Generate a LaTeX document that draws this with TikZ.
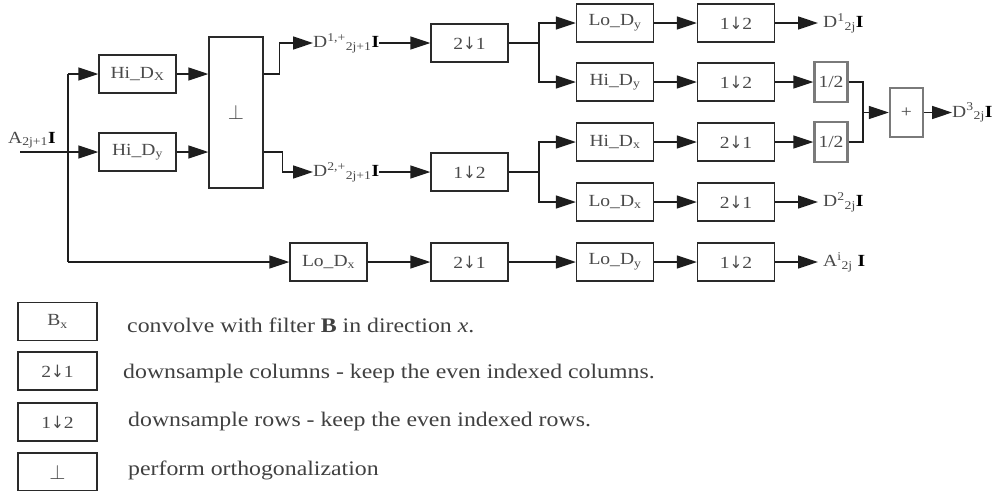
\documentclass[tikz,border=0pt]{standalone}
\usepackage{fontspec}
\setmainfont{Liberation Serif}[FakeStretch=1.15]
\newfontfamily\arrfont{DejaVu Sans}
\newcommand{\dnar}{{\arrfont\addfontfeature{FakeStretch=0.9}↓}}
\usetikzlibrary{arrows.meta}
\definecolor{linec}{HTML}{1E1E1E}
\definecolor{boxc}{HTML}{2A2A2A}
\definecolor{txtc}{HTML}{4A4A4A}
\definecolor{gboxc}{HTML}{7A7A7A}
\tikzset{
  blk/.style={draw=boxc, line width=1.4pt, minimum width=77pt, minimum height=38pt, inner sep=0pt,
    font=\fontsize{17}{19}\selectfont, text=txtc},
  gblk/.style={draw=gboxc, line width=2.4pt, minimum width=33pt, minimum height=40pt, inner sep=0pt,
    font=\fontsize{17}{19}\selectfont, text=txtc},
  lab/.style={inner sep=0pt, font=\fontsize{17}{19}\selectfont, text=txtc},
  leg/.style={inner sep=0pt, anchor=west, font=\fontsize{20.7}{22}\selectfont, text=linec!85},
  arr/.style={draw=linec, line width=1.4pt, -{Triangle[length=20pt,width=13pt]}},
  ln/.style={draw=linec, line width=1.4pt},
}
\begin{document}
\begin{tikzpicture}[x=1pt,y=-1pt]
\useasboundingbox[fill=white] (0,0) rectangle (996,490);

% input
\node[lab, anchor=base west] (ain) at (8,143) {A\textsubscript{2j+1}\textcolor{black}{\textbf{I}}};
\coordinate (in0) at (20,152);
\coordinate (j1) at (68,152);
\coordinate (jt) at (68,74);
\coordinate (jb) at (68,262);

% first stage
\node[blk] (hdx) at (137.5,74) {Hi\_D\textsubscript{X}};
\node[blk] (hdy) at (137.5,152) {Hi\_D\textsubscript{y}};
\node[blk, minimum width=54pt, minimum height=151pt, font=\fontsize{22}{24}\selectfont] (orth) at (236,112.5) {\raisebox{-8pt}{$\perp$}};

% intermediate labels
\node[lab, anchor=west] (d1p) at (313,43) {D\textsuperscript{1,+}\textsubscript{2j+1}\textcolor{black}{\textbf{I}}};
\node[lab, anchor=west] (d2p) at (313,172) {D\textsuperscript{2,+}\textsubscript{2j+1}\textcolor{black}{\textbf{I}}};

% downsampling stage 1
\node[blk] (b21a) at (469.5,43) {2\dnar1};
\node[blk] (b12c) at (469.5,172) {1\dnar2};
\coordinate (s1) at (539,43);
\coordinate (s2) at (539,172);

% filters stage 2
\node[blk] (lody1) at (615,23) {Lo\_D\textsubscript{y}};
\node[blk] (hidy2) at (615,82) {Hi\_D\textsubscript{y}};
\node[blk] (hidx3) at (615,142) {Hi\_D\textsubscript{x}};
\node[blk] (lodx4) at (615,202) {Lo\_D\textsubscript{x}};

% downsampling stage 2
\node[blk] (b12a) at (736,23) {1\dnar2};
\node[blk] (b12b) at (736,82) {1\dnar2};
\node[blk] (b21b) at (736,142) {2\dnar1};
\node[blk] (b21c) at (736,202) {2\dnar1};

% halves and sum
\node[gblk] (half1) at (831,82) {1/2};
\node[gblk] (half2) at (831,142) {1/2};
\coordinate (jn) at (863,112.5);
\node[gblk, minimum height=49pt] (plus) at (906.5,112.5) {+};

% outputs
\node[lab, anchor=west] (o1) at (823,23) {D\textsuperscript{1}\textsubscript{2j}\textcolor{black}{\textbf{I}}};
\node[lab, anchor=west] (o3) at (952,112.5) {D\textsuperscript{3}\textsubscript{2j}\textcolor{black}{\textbf{I}}};
\node[lab, anchor=west] (o2) at (823,202) {D\textsuperscript{2}\textsubscript{2j}\textcolor{black}{\textbf{I}}};
\node[lab, anchor=west] (o4) at (823,262) {A\textsuperscript{i}\textsubscript{2j} \textcolor{black}{\textbf{I}}};

% bottom row
\node[blk] (lodx5) at (328.5,262) {Lo\_D\textsubscript{x}};
\node[blk] (b21d) at (469.5,262) {2\dnar1};
\node[blk] (lody5) at (615,262) {Lo\_D\textsubscript{y}};
\node[blk] (b12e) at (736,262) {1\dnar2};

% connectors
\draw[ln] (in0) -- (j1);
\draw[ln] (jt) -- (jb);
\draw[arr] (jt) -- (hdx);
\draw[arr] (j1) -- (hdy);
\draw[arr] (jb) -- (lodx5);
\draw[arr] (hdx.east) -- (hdx.east -| orth.west);
\draw[arr] (hdy.east) -- (hdy.east -| orth.west);
\draw[arr] (orth.east |- hdx) -- ++(16,0) |- (d1p.west);
\draw[arr] (orth.east |- hdy) -- ++(19,0) |- (d2p.west);
\draw[arr] (b21a.west -| d1p.east) -- (b21a.west);
\draw[arr] (b12c.west -| d2p.east) -- (b12c.west);
\draw[ln] (b21a) -- (s1);
\draw[ln] (b12c) -- (s2);
\draw[arr] (s1) |- (lody1);
\draw[arr] (s1) |- (hidy2);
\draw[arr] (s2) |- (hidx3);
\draw[arr] (s2) |- (lodx4);
\draw[arr] (lody1) -- (b12a);
\draw[arr] (hidy2) -- (b12b);
\draw[arr] (hidx3) -- (b21b);
\draw[arr] (lodx4) -- (b21c);
\draw[arr] (b12b) -- (half1);
\draw[arr] (b21b) -- (half2);
\draw[ln] (half1.east) -| (jn);
\draw[ln] (half2.east) -| (jn);
\draw[arr] (jn) -- (plus);
\draw[arr] (plus) -- (o3.west);
\draw[arr, shorten >=5pt] (b12a) -- (o1.west);
\draw[arr, shorten >=5pt] (b21c) -- (o2.west);
\draw[arr] (lodx5) -- (b21d);
\draw[arr] (b21d) -- (lody5);
\draw[arr] (lody5) -- (b12e);
\draw[arr, shorten >=5pt] (b12e) -- (o4.west);

% legend
\node[blk, minimum width=79pt] (k1) at (57.5,321.5) {B\textsubscript{x}};
\node[blk, minimum width=79pt] (k2) at (57.5,371) {2\dnar1};
\node[blk, minimum width=79pt] (k3) at (57.5,422) {1\dnar2};
\node[blk, minimum width=79pt, font=\fontsize{20}{22}\selectfont] (k4) at (57.5,472) {$\perp$};
\node[leg] (t1) at (127,325) {convolve with filter \textbf{B} in direction \textit{x}.};
\node[leg] (t2) at (123,374) {downsample columns - keep the even indexed columns.};
\node[leg] (t3) at (128,422) {downsample rows - keep the even indexed rows.};
\node[leg] (t4) at (128,470) {perform orthogonalization};
\end{tikzpicture}
\end{document}
